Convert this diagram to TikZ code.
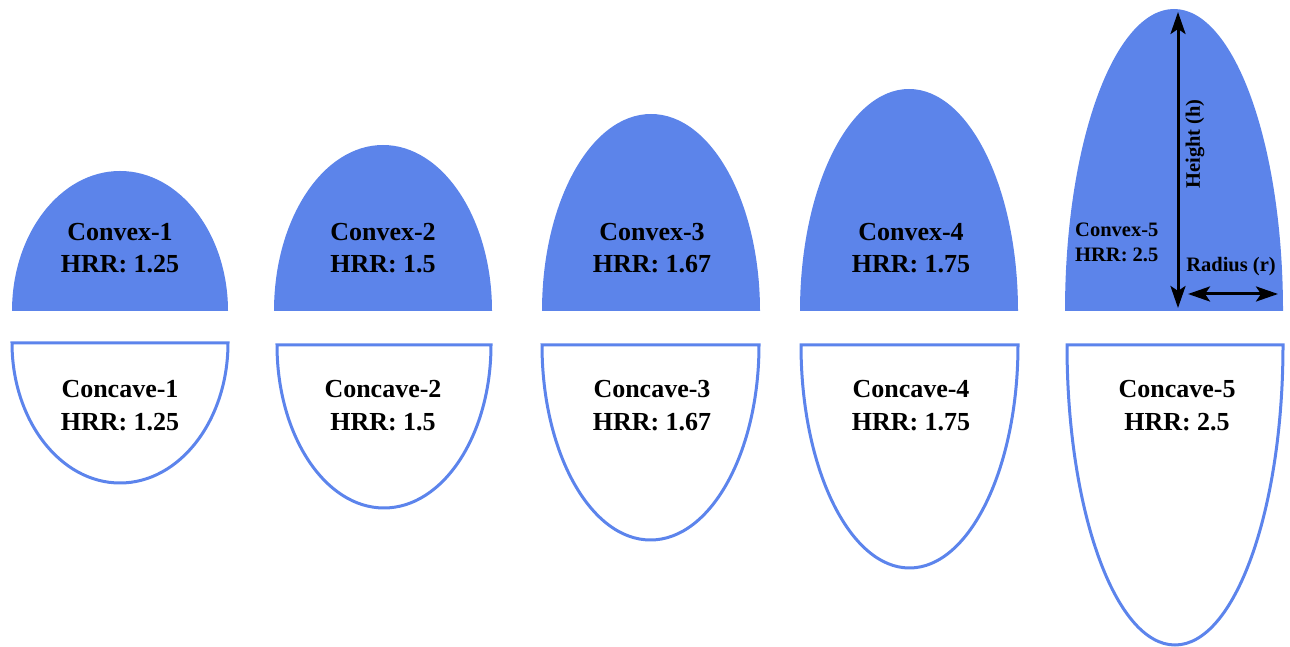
\documentclass[tikz,border=0pt]{standalone}
\usepackage{fontspec}
\setmainfont{Liberation Serif}
\usetikzlibrary{arrows.meta}
\definecolor{capblue}{RGB}{92,132,234}
\definecolor{rimblue}{RGB}{92,132,236}
\tikzset{
  convexfill/.style={fill=capblue},
  concaveline/.style={draw=rimblue,line width=3pt,fill=white},
  biglabel/.style={font=\bfseries\fontsize{26}{31}\selectfont,inner sep=0pt,anchor=base},
  smalllabel/.style={font=\bfseries\fontsize{20.5}{25}\selectfont,inner sep=0pt},
  dimarrow/.style={line width=3pt,{Stealth[length=22pt,width=15pt,inset=5pt]}-{Stealth[length=22pt,width=15pt,inset=5pt]}}
}
\begin{document}
\begin{tikzpicture}[x=1pt,y=1pt]
\useasboundingbox (0,0) rectangle (1290,647);
% convex caps (base at y=336)
\fill[convexfill] (12,336) arc[start angle=180,end angle=0,x radius=108,y radius=140] -- cycle;
\fill[convexfill] (274,336) arc[start angle=180,end angle=0,x radius=109,y radius=166] -- cycle;
\fill[convexfill] (542,336) arc[start angle=180,end angle=0,x radius=109,y radius=197] -- cycle;
\fill[convexfill] (800,336) arc[start angle=180,end angle=0,x radius=109,y radius=222] -- cycle;
\fill[convexfill] (1065,336) arc[start angle=180,end angle=0,x radius=109,y radius=302] -- cycle;
% concave cups
\draw[concaveline] (12,304) arc[start angle=180,end angle=360,x radius=108,y radius=140] -- cycle;
\draw[concaveline] (277,302) arc[start angle=180,end angle=360,x radius=107,y radius=163] -- cycle;
\draw[concaveline] (542,302) arc[start angle=180,end angle=360,x radius=108.5,y radius=195] -- cycle;
\draw[concaveline] (801,302) arc[start angle=180,end angle=360,x radius=108.5,y radius=223] -- cycle;
\draw[concaveline] (1067,302) arc[start angle=180,end angle=360,x radius=108,y radius=300] -- cycle;
% convex labels
\node[biglabel] (cv1a) at (120,406) {Convex-1};
\node[biglabel] (cv1b) at (120,374) {HRR: 1.25};
\node[biglabel] (cv2a) at (383,406) {Convex-2};
\node[biglabel] (cv2b) at (383,374) {HRR: 1.5};
\node[biglabel] (cv3a) at (652,406) {Convex-3};
\node[biglabel] (cv3b) at (652,374) {HRR: 1.67};
\node[biglabel] (cv4a) at (911,406) {Convex-4};
\node[biglabel] (cv4b) at (911,374) {HRR: 1.75};
\node[smalllabel,anchor=base west] (cv5a) at (1075,410) {Convex-5};
\node[smalllabel,anchor=base west] (cv5b) at (1075,385) {HRR: 2.5};
% concave labels
\node[biglabel] (cc1a) at (120,249) {Concave-1};
\node[biglabel] (cc1b) at (120,216) {HRR: 1.25};
\node[biglabel] (cc2a) at (383,249) {Concave-2};
\node[biglabel] (cc2b) at (383,216) {HRR: 1.5};
\node[biglabel] (cc3a) at (652,249) {Concave-3};
\node[biglabel] (cc3b) at (652,216) {HRR: 1.67};
\node[biglabel] (cc4a) at (911,249) {Concave-4};
\node[biglabel] (cc4b) at (911,216) {HRR: 1.75};
\node[biglabel] (cc5a) at (1177,249) {Concave-5};
\node[biglabel] (cc5b) at (1177,216) {HRR: 2.5};
% dimension arrows
\coordinate (htop) at (1178,635);
\coordinate (hbot) at (1178,339);
\coordinate (rleft) at (1188,353);
\coordinate (rright) at (1278,353);
\draw[dimarrow] (hbot) -- (htop);
\draw[dimarrow] (rleft) -- (rright);
\node[smalllabel,rotate=90] (hlab) at (1195,503) {Height (h)};
\node[smalllabel,anchor=base] (rlab) at (1231,375) {Radius (r)};
\end{tikzpicture}
\end{document}
